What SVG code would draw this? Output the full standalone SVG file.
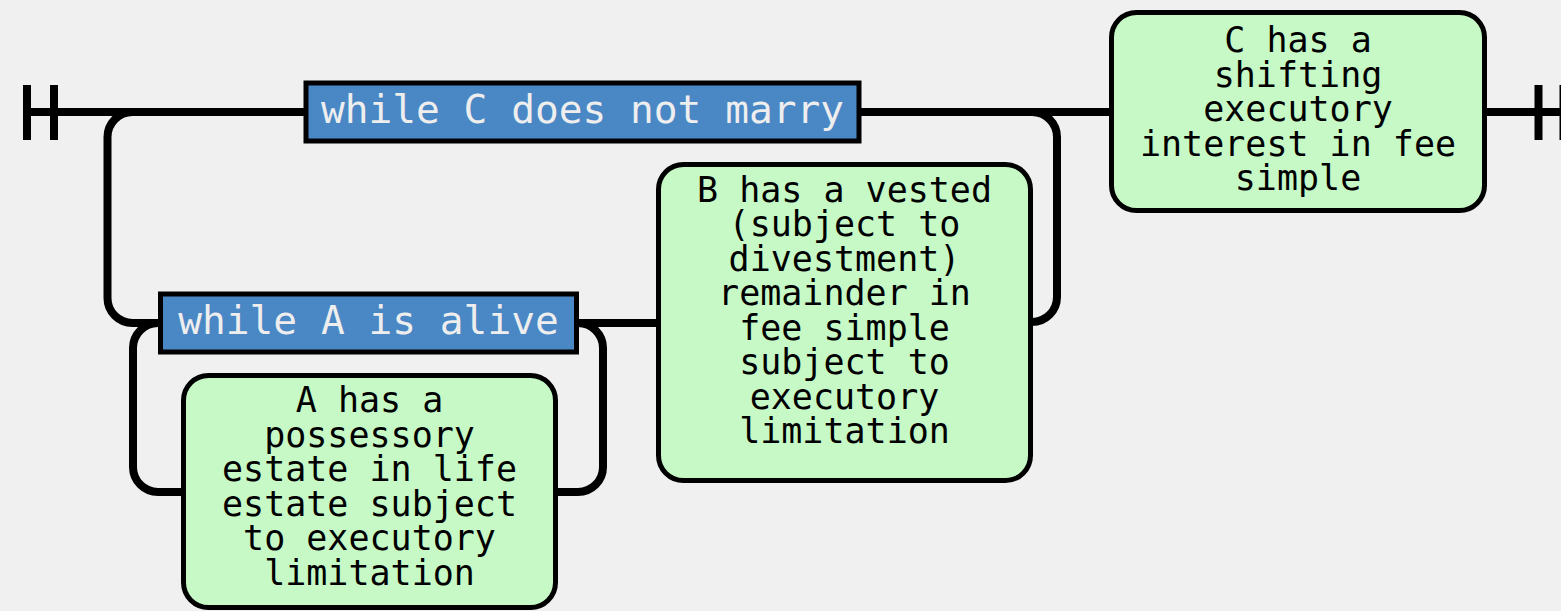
<svg xmlns="http://www.w3.org/2000/svg" width="1561" height="611" viewBox="0 0 1561 611">
<style>
.line{fill:none;stroke:#000;stroke-width:8}
.cond rect{fill:#4a87c5;stroke:#000;stroke-width:5}
.cond text{font-family:"DejaVu Sans Mono","Liberation Mono",monospace;font-size:39.5px;fill:#eeeeee;text-anchor:middle}
.est rect{fill:#c6f9c6;stroke:#000;stroke-width:5}
.est text{font-family:"DejaVu Sans Mono","Liberation Mono",monospace;font-size:35px;fill:#000;text-anchor:middle}
</style>
<rect x="0" y="0" width="1561" height="611" fill="#f0f0f0"/>
<g id="connectors">
<path class="line" d="M27 112 H1561"/>
<path class="line" d="M27 85 V140 M54 85 V140 M1538.5 85 V140 M1563.5 85 V140"/>
<path class="line" d="M132.5 112 A25 25 0 0 0 107.5 137 V298 A25 25 0 0 0 132.5 323 H162"/>
<path class="line" d="M575 323 H660"/>
<path class="line" d="M158 323 A25 25 0 0 0 133 348 V467 A25 25 0 0 0 158 492 H186"/>
<path class="line" d="M553 492 H578 A25 25 0 0 0 603 467 V348 A25 25 0 0 0 578 323"/>
<path class="line" d="M1029 322 H1032 A25 25 0 0 0 1057 297 V137 A25 25 0 0 0 1032 112"/>
</g>
<g id="n-while-c" class="cond">
<rect x="306" y="83" width="553" height="58"/>
<text x="582.5" y="123">while C does not marry</text>
</g>
<g id="n-while-a" class="cond">
<rect x="160.5" y="294" width="416" height="58"/>
<text x="368.5" y="334">while A is alive</text>
</g>
<g id="n-a" class="est">
<rect x="183.5" y="375.5" width="372" height="232" rx="25"/>
<text x="369.5" y="412">A has a</text>
<text x="369.5" y="446.5">possessory</text>
<text x="369.5" y="481">estate in life</text>
<text x="369.5" y="515.5">estate subject</text>
<text x="369.5" y="550">to executory</text>
<text x="369.5" y="584.5">limitation</text>
</g>
<g id="n-b" class="est">
<rect x="658.5" y="164.5" width="372" height="316" rx="25"/>
<text x="844.5" y="201.5">B has a vested</text>
<text x="844.5" y="236">(subject to</text>
<text x="844.5" y="270.5">divestment)</text>
<text x="844.5" y="305">remainder in</text>
<text x="844.5" y="339.5">fee simple</text>
<text x="844.5" y="374">subject to</text>
<text x="844.5" y="408.5">executory</text>
<text x="844.5" y="443">limitation</text>
</g>
<g id="n-c" class="est">
<rect x="1111.5" y="12.5" width="373" height="198" rx="25"/>
<text x="1298" y="52">C has a</text>
<text x="1298" y="86.5">shifting</text>
<text x="1298" y="121">executory</text>
<text x="1298" y="155.5">interest in fee</text>
<text x="1298" y="190">simple</text>
</g>
</svg>
